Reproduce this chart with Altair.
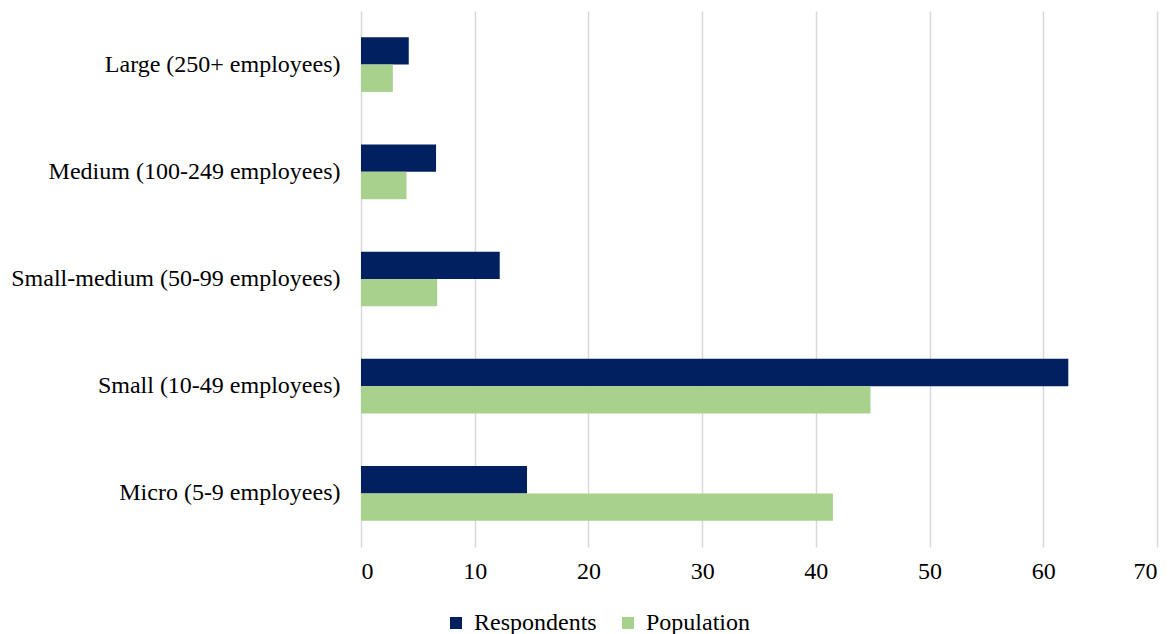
import altair as alt
import pandas as pd

categories = [
    "Large (250+ employees)",
    "Medium (100-249 employees)",
    "Small-medium (50-99 employees)",
    "Small (10-49 employees)",
    "Micro (5-9 employees)",
]
series = ["Respondents", "Population"]
respondents = [4.2, 6.6, 12.2, 62.2, 14.6]
population = [2.8, 4.0, 6.7, 44.8, 41.5]
colors = ["#002060", "#A9D18E"]

rows = []
for c, r, p in zip(categories, respondents, population):
    rows.append({"category": c, "series": series[0], "value": r})
    rows.append({"category": c, "series": series[1], "value": p})
df = pd.DataFrame(rows)

FONT = "Liberation Serif"

chart = alt.Chart(df).mark_bar().encode(
    y=alt.Y("category:N", sort=categories, title=None,
            scale=alt.Scale(paddingInner=0.49, paddingOuter=0.245),
            axis=alt.Axis(domain=False, ticks=False, grid=False, labelPadding=21,
                          labelFont=FONT, labelFontSize=24, labelColor="#000000",
                          labelLimit=500)),
    yOffset=alt.YOffset("series:N", sort=series),
    x=alt.X("value:Q", title=None,
            scale=alt.Scale(domain=[0, 70], nice=False),
            axis=alt.Axis(values=list(range(0, 71, 10)), domain=False, ticks=False,
                          grid=True, gridColor="#d9d9d9", gridWidth=1.5,
                          labelPadding=12, labelFont=FONT, labelFontSize=24,
                          labelColor="#000000")),
    color=alt.Color("series:N", sort=series,
                    scale=alt.Scale(domain=series, range=colors),
                    legend=alt.Legend(title=None, orient="none", direction="horizontal",
                                      legendX=83, legendY=600,
                                      symbolType="square", symbolSize=144,
                                      symbolStrokeWidth=0,
                                      labelFont=FONT, labelFontSize=24,
                                      labelColor="#000000", columnPadding=19,
                                      labelOffset=6)),
).properties(
    width=796, height=536,
    autosize=alt.AutoSizeParams(type="none"),
    padding={"left": 361, "top": 11, "right": 14, "bottom": 87},
).configure(background="white", font=FONT).configure_view(
    stroke="transparent", strokeOpacity=0, strokeWidth=0)

chart.save("out.html", embed_options={"renderer": "svg", "actions": False})
